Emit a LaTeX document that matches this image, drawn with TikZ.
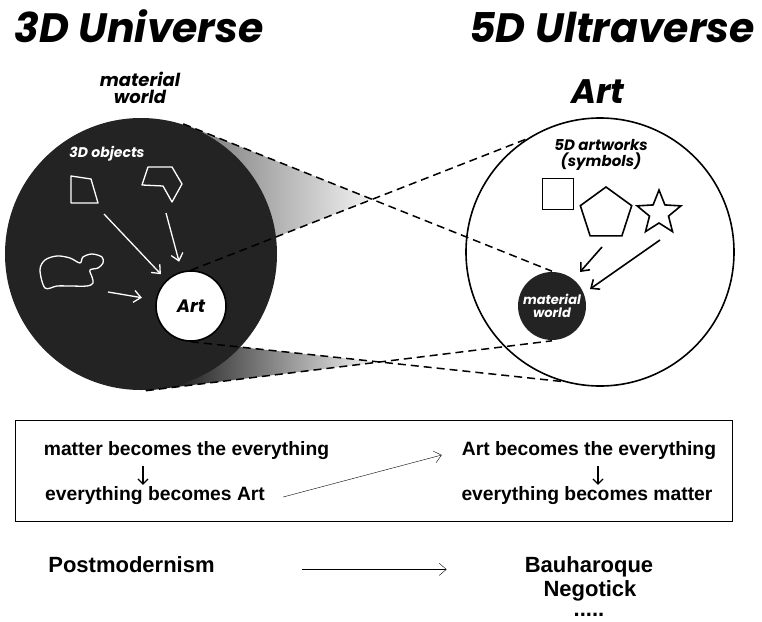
\documentclass[tikz,border=0pt]{standalone}
\usepackage{fontspec}
\setmainfont{Liberation Sans}
\newfontfamily\futfont{Poppins}
\usepackage{tikz}
\usetikzlibrary{arrows.meta,shapes.geometric}
\definecolor{ink}{HTML}{232323}
\pgfdeclarelayer{bg}
\pgfsetlayers{bg,main}

\tikzset{
  headline/.style={font=\futfont\bfseries\itshape\fontsize{41}{44}\selectfont, anchor=base, inner sep=0pt},
  blurb/.style={font=\futfont\bfseries\itshape\fontsize{#1}{#1}\selectfont, align=center, inner sep=0pt},
  boxtext/.style={font=\bfseries\fontsize{19.3}{22}\selectfont, anchor=base, inner sep=0pt},
  lowtext/.style={font=\bfseries\fontsize{22}{24}\selectfont, anchor=base, inner sep=0pt},
  cone/.style={dash pattern=on 8pt off 5pt, line width=1.5pt},
  sketch/.style={white, line width=1.3pt, line join=round},
}

\begin{document}
\begin{tikzpicture}[x=1pt, y=-1pt, line width=1.6pt, >={Straight Barb[length=7pt,width=12pt]}]
  \useasboundingbox (0,0) rectangle (762,621);

  \node[headline] (uni) at (139,42) {3D Universe};
  \node[headline] (ultra title) at (612,42) {5D Ultraverse};
  \node[blurb={18}, font=\futfont\bfseries\itshape\fontsize{18}{17}\selectfont] (mwlbl) at (140,88) {material\\world};
  \node[headline, font=\futfont\bfseries\itshape\fontsize{34}{34}\selectfont] (artlbl) at (598,103) {Art};

  % material world
  \node[circle, fill=ink, minimum size=272pt, inner sep=0pt] (mw) at (141,254) {};
  \node[blurb={14}, text=white, anchor=base] (objlbl) at (107,157) {3D objects};
  \draw[sketch] (71,176) -- (91,179) -- (98,203) -- (71,203) -- cycle;
  \draw[sketch] (148,167) -- (172,167) -- (182,184) -- (172,202) -- (163,186) -- (142,185) -- cycle;
  \draw[sketch] plot[smooth cycle, tension=0.55] coordinates {(45,288) (40,270) (45,260) (57,256) (70,258) (80,263) (83,257) (92,254) (102,257) (103,263) (98,268) (90,270) (92,277) (93,283) (87,286) (70,286) (57,286)};
  \node[circle, draw, fill=white, minimum size=70pt, blurb={18}] (art) at (191,306) {Art};
  \draw[sketch, ->, shorten >=8pt] (104,214) -- (art);
  \draw[sketch, ->, shorten >=10pt] (166,213) -- (art);
  \draw[sketch, ->, shorten >=14pt] (108,292) -- (art);

  % art
  \node[circle, draw, minimum size=268pt] (ultra) at (600,252) {};
  \node[blurb={15}, font=\futfont\bfseries\itshape\fontsize{15}{15.5}\selectfont] (symlbl) at (601,155) {5D artworks\\(symbols)};
  \node[draw, minimum size=31pt, inner sep=0pt] (sq) at (558,194) {};
  \node[draw, regular polygon, regular polygon sides=5, minimum size=54pt, inner sep=0pt] (pent) at (606,214) {};
  \node[draw, star, star points=5, star point ratio=2.3, minimum size=46pt, inner sep=0pt] (star) at (659,213) {};
  \node[circle, fill=ink, minimum size=68pt, text=white, blurb={13}] (mw2) at (552,306) {material\\world};
  \draw[->] (602,247) -- (580,272);
  \draw[->] (660,240) -- (590,289);

  \coordinate (x1) at (intersection of mw.72--mw2.north and art.north--ultra.123);
  \coordinate (x2) at (intersection of art.south--ultra.-106 and mw.-88--mw2.south);
  \begin{pgfonlayer}{bg}
    \shade[left color=black!55, right color=black!5] (mw.72) -- (x1) -- (art.north) -- cycle;
    \shade[left color=black, right color=black!3] (art.south) -- (x2) -- (mw.-88) -- cycle;
  \end{pgfonlayer}
  \draw[cone] (mw.72) -- (mw2.north);
  \draw[cone] (art.north) -- (ultra.123);
  \draw[cone] (art.south) -- (ultra.-106);
  \draw[cone] (mw.-88) -- (mw2.south);

  \node[draw, minimum width=717pt, minimum height=101pt, inner sep=0pt] (frame) at (373.5,470.5) {};
  \node[boxtext] (m1) at (186.5,455) {matter becomes the everything};
  \node[boxtext] (e1) at (155,500) {everything becomes Art};
  \node[boxtext] (a1) at (589,455) {Art becomes the everything};
  \node[boxtext] (e2) at (587,500) {everything becomes matter};
  \foreach \a/\b/\s/\t in {m1/e1/-43.5/-12, a1/e2/9/11}
    \draw[->, line width=1.2pt, >={Straight Barb[length=5pt,width=10pt]}, shorten <=7pt, shorten >=1pt] ([xshift=\s pt]\a.south) -- ([xshift=\t pt]\b.north);
  \draw[->] ([xshift=18pt,yshift=3pt]e1.base east) -- ([xshift=-20pt]a1.base west);

  \node[lowtext] (pm) at (131.5,572) {Postmodernism};
  \node[lowtext] (bq) at (589,572) {Bauharoque};
  \node[lowtext] (ng) at (590,596) {Negotick};
  \node[lowtext] (dd) at (589,616) {.....};
  \draw[->] ([xshift=87pt]pm.mid east) -- ([xshift=-78pt]bq.mid west);
\end{tikzpicture}
\end{document}
